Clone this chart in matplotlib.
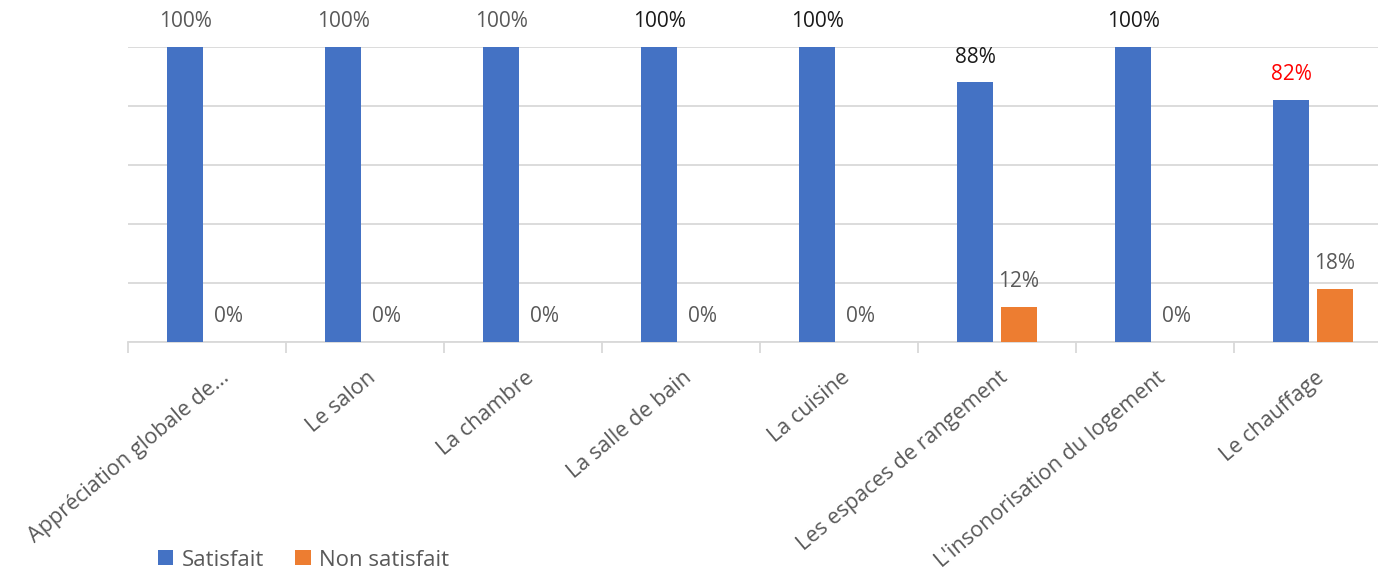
import matplotlib.pyplot as plt
import matplotlib.transforms as mtransforms
import numpy as np

categories = ["Appréciation globale de...", "Le salon", "La chambre", "La salle de bain",
              "La cuisine", "Les espaces de rangement", "L'insonorisation du logement",
              "Le chauffage"]
satisfait = [100, 100, 100, 100, 100, 88, 100, 82]
non_satisfait = [0, 0, 0, 0, 0, 12, 0, 18]

# label colours for the blue series (as in the original workbook)
sat_label_colors = ["#595959", "#595959", "#595959", "#1a1a1a", "#1a1a1a",
                    "#1a1a1a", "#1a1a1a", "#ff0000"]

plt.rcParams['font.family'] = ['Open Sans', 'DejaVu Sans']

fig = plt.figure(figsize=(13.78, 5.8), dpi=100)
ax = fig.add_axes([128 / 1378, 238 / 580, 1264 / 1378, 295 / 580])

x = np.arange(len(categories))
w = 0.228
off = 0.137
b1 = ax.bar(x - off, satisfait, w, color="#4472c4", label="Satisfait", zorder=3)
b2 = ax.bar(x + off, non_satisfait, w, color="#ed7d31", label="Non satisfait", zorder=3)

for xi, v, c in zip(x, satisfait, sat_label_colors):
    ax.text(xi - off, v + 5, f"{v}%", ha="center", va="bottom", fontsize=15, color=c)
for xi, v in zip(x, non_satisfait):
    ax.text(xi + off, v + 5, f"{v}%", ha="center", va="bottom", fontsize=15, color="#595959")

ax.set_xlim(-0.5, 7.5)
ax.set_ylim(0, 100)
ax.set_yticks([0, 20, 40, 60, 80, 100])
ax.yaxis.grid(True, color="#d9d9d9", linewidth=1.3, zorder=0)
ax.tick_params(axis="y", left=False, labelleft=False)
for s in ["top", "right", "left"]:
    ax.spines[s].set_visible(False)
ax.spines["bottom"].set_color("#d9d9d9")
ax.spines["bottom"].set_linewidth(1.3)
ax.spines["bottom"].set_zorder(0)

ax.set_xticks(x)
ax.set_xticklabels(categories, rotation=40, ha="right", va="center",
                   rotation_mode="anchor", fontsize=15.5, color="#595959")
ax.tick_params(axis="x", which="major", length=0, pad=24)
ax.set_xticks(np.arange(-0.5, 8, 1), minor=True)
ax.tick_params(axis="x", which="minor", length=8, color="#d9d9d9", width=1.3)

# nudge labels a little to the right, the first (truncated) one a bit more
for i, lab in enumerate(ax.get_xticklabels()):
    dx = 20 if i == 0 else 8
    lab.set_transform(lab.get_transform() + mtransforms.ScaledTranslation(dx / 100, 0, fig.dpi_scale_trans))

fig.legend(handles=[b1, b2], loc="center left", bbox_to_anchor=(158 / 1378, 1 - 560 / 580),
           ncol=2, frameon=False, fontsize=16, handlelength=0.68, handleheight=0.68,
           handletextpad=0.4, columnspacing=1.4, borderpad=0, borderaxespad=0,
           labelcolor="#595959")

fig.savefig("out.png", dpi=100)
